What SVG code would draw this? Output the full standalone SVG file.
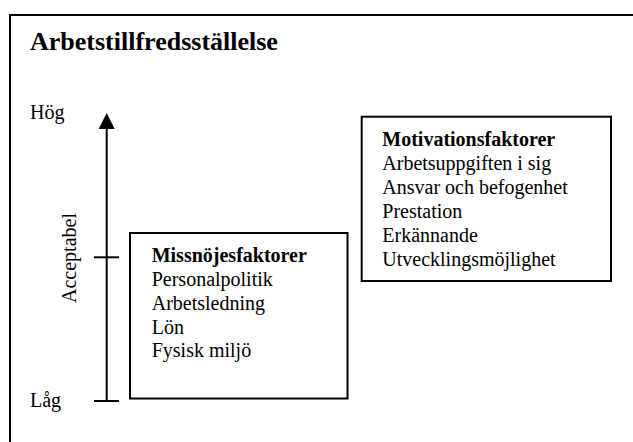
<svg xmlns="http://www.w3.org/2000/svg" width="633" height="442" viewBox="0 0 633 442">
  <style>
    text { font-family: "Liberation Serif", "Times New Roman", serif; fill: #000; }
    .t { font-size: 20px; }
    .b { font-weight: bold; }
    .title { font-size: 26px; font-weight: bold; }
    .frame { fill: none; stroke: #000; stroke-width: 2; }
    .box { fill: #fff; stroke: #000; stroke-width: 2; }
    .axis { stroke: #000; stroke-width: 2; fill: none; }
  </style>
  <defs>
    <marker id="arrowhead" markerWidth="8" markerHeight="8" refX="4" refY="8" orient="auto-start-reverse" markerUnits="userSpaceOnUse" viewBox="0 0 8 8">
      <path d="M0,0 L8,8 L0,8 Z" fill="#000"/>
    </marker>
  </defs>

  <!-- outer frame: top and left edges only -->
  <path class="frame" d="M10,442 L10,15 L633,15"/>

  <text class="title" x="30" y="50">Arbetstillfredsställelse</text>

  <!-- vertical scale -->
  <g id="scale">
    <text class="t" x="30" y="119">Hög</text>
    <text class="t" x="30" y="407">Låg</text>
    <text class="t" transform="translate(76,258) rotate(-90)" text-anchor="middle">Acceptabel</text>
  </g>

  <g id="connectors">
    <line class="axis" x1="106.7" y1="401" x2="106.7" y2="128"/>
    <polygon points="106.7,113 98.7,129 114.7,129" fill="#000"/>
    <line class="axis" x1="94" y1="257.3" x2="119" y2="257.3"/>
    <line class="axis" x1="94" y1="401" x2="119" y2="401"/>
  </g>

  <g id="missnojesfaktorer">
    <rect class="box" x="130" y="233" width="217.5" height="165.5"/>
    <text class="t b" x="151.7" y="262.3">Missnöjesfaktorer</text>
    <text class="t" x="151.7" y="286">Personalpolitik</text>
    <text class="t" x="151.7" y="310">Arbetsledning</text>
    <text class="t" x="151.7" y="333.5">Lön</text>
    <text class="t" x="151.7" y="357.3">Fysisk miljö</text>
  </g>

  <g id="motivationsfaktorer">
    <rect class="box" x="361.7" y="116.7" width="249.3" height="164.3"/>
    <text class="t b" x="382.3" y="145.7">Motivationsfaktorer</text>
    <text class="t" x="382.3" y="169.7">Arbetsuppgiften i sig</text>
    <text class="t" x="382.3" y="193.5">Ansvar och befogenhet</text>
    <text class="t" x="382.3" y="217.5">Prestation</text>
    <text class="t" x="382.3" y="241.5">Erkännande</text>
    <text class="t" x="382.3" y="265.7">Utvecklingsmöjlighet</text>
  </g>
</svg>
